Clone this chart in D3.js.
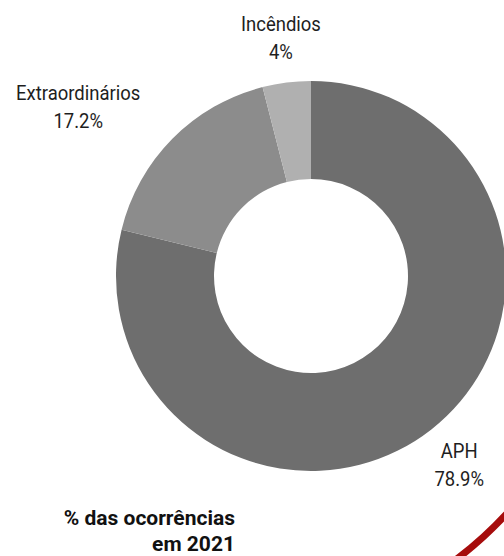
<!DOCTYPE html>
<html>
<head>
<meta charset="utf-8">
<script src="https://cdn.jsdelivr.net/npm/d3@7"></script>
<style>
  body { margin: 0; background: #fff; }
  svg { display: block; font-family: Roboto, sans-serif; }
</style>
</head>
<body>
<svg id="chart"></svg>
<script>
// values
const categories = ["APH", "Extraordinários", "Incêndios"];
const shares = [78.9, 17.2, 4];
const titleLines = ["% das ocorrências", "em 2021"];

const colors = ["#6e6e6e", "#8c8c8c", "#b0b0b0"];
const labelAlign = ["middle", "end", "middle"];

const width = 504, height = 556;
const cx = 311, cy = 276;
const outerR = 195, innerR = 97, labelR = 240;
const squeeze = 0.88; // the labels use a narrow face

const svg = d3.select("#chart")
    .attr("width", width)
    .attr("height", height);

// decorative red arc in the corner
svg.append("path")
    .attr("transform", "translate(224,253)")
    .attr("d", d3.arc()({
        innerRadius: 381, outerRadius: 388,
        startAngle: 120 * Math.PI / 180, endAngle: 155 * Math.PI / 180
    }))
    .attr("fill", "#a60c0c");

const pie = d3.pie().sort(null).value(d => d);
const arcs = pie(shares);

const arc = d3.arc().innerRadius(innerR).outerRadius(outerR);
const labelArc = d3.arc().innerRadius(labelR).outerRadius(labelR);

const g = svg.append("g").attr("transform", `translate(${cx},${cy})`);

g.selectAll("path.slice")
    .data(arcs)
    .enter().append("path")
    .attr("class", "slice")
    .attr("d", arc)
    .attr("fill", (d, i) => colors[i]);

const labels = g.selectAll("g.label")
    .data(arcs)
    .enter().append("g")
    .attr("class", "label");

labels.each(function(d, i) {
    const [x, y] = labelArc.centroid(d);
    const el = d3.select(this);
    const t = el.append("text")
        .attr("text-anchor", "middle")
        .attr("fill", "#1e1e1e")
        .style("font-size", "21px");
    t.append("tspan").attr("x", 0).attr("y", -7).text(categories[i]);
    t.append("tspan").attr("x", 0).attr("y", 21).text(`${shares[i]}%`);
    let dx = 0;
    if (labelAlign[i] === "end") dx = -t.node().getBBox().width * squeeze / 2;
    el.attr("transform", `translate(${x + dx},${y}) scale(${squeeze},1)`);
});

svg.append("text")
    .attr("text-anchor", "end")
    .attr("fill", "#111")
    .style("font-size", "21px")
    .style("font-weight", "700")
    .selectAll("tspan")
    .data(titleLines)
    .enter().append("tspan")
    .attr("x", 235)
    .attr("y", (d, i) => 525 + i * 26)
    .text(d => d);
</script>
</body>
</html>
